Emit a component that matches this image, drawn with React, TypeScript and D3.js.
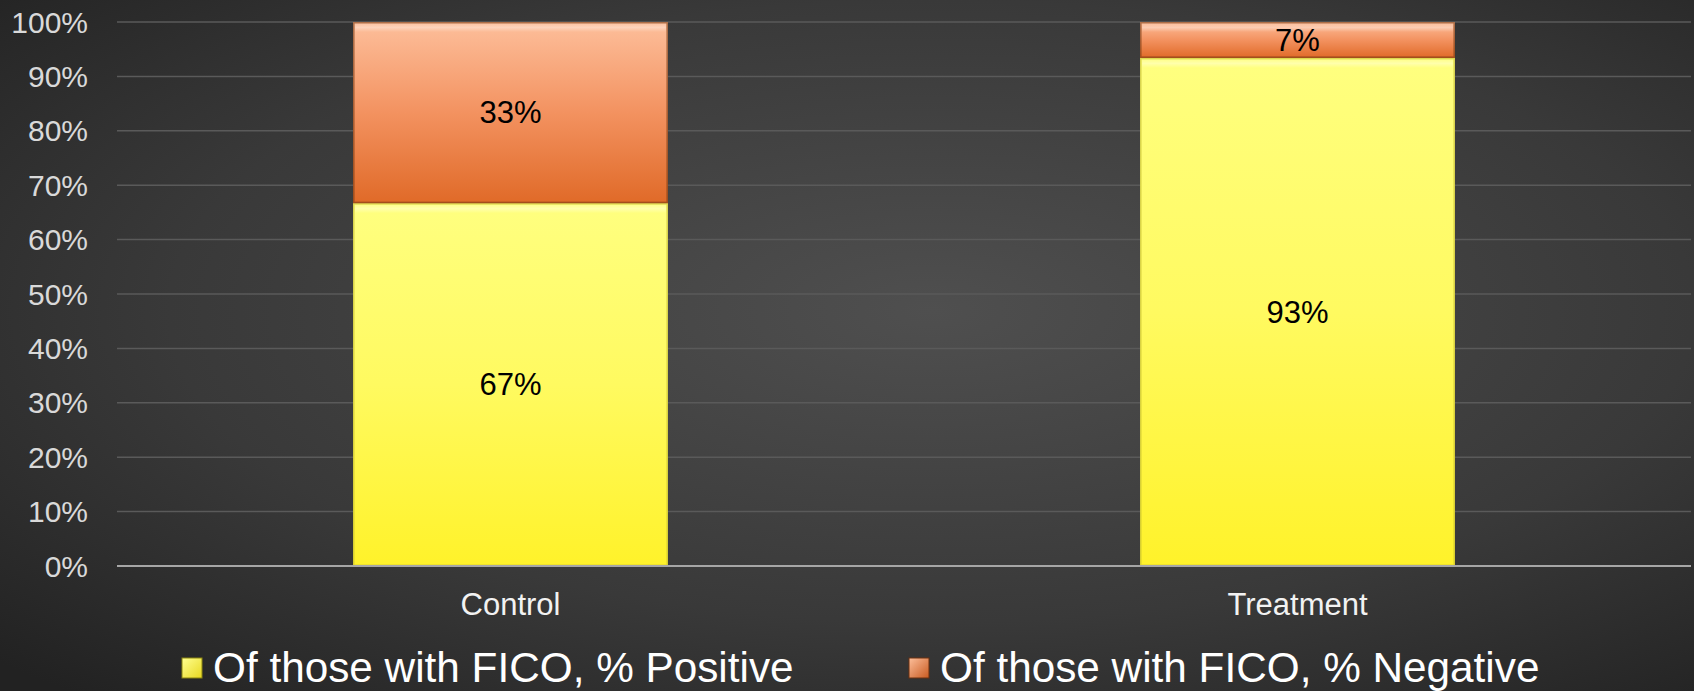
import React from "react";
import * as d3 from "d3";

const categories = ["Control", "Treatment"];
const positiveValues = [0.667, 0.934];
const negativeValues = [0.333, 0.066];
const seriesNames = ["Of those with FICO, % Positive", "Of those with FICO, % Negative"];
const yTicks = [0, 0.1, 0.2, 0.3, 0.4, 0.5, 0.6, 0.7, 0.8, 0.9, 1.0];

const W = 1694;
const H = 691;
const M = { left: 117, right: 3, top: 22, bottom: 125 };
const FONT = "'Liberation Sans', Arial, sans-serif";

export default function App() {
  const x = d3
    .scaleBand<string>()
    .domain(categories)
    .range([M.left, W - M.right])
    .paddingInner(0.6)
    .paddingOuter(0.3);
  const y = d3.scaleLinear().domain([0, 1]).range([H - M.bottom, M.top]);
  const pct = d3.format(".0%");
  const stacked = d3
    .stack<any>()
    .keys(["pos", "neg"])(categories.map((c, i) => ({ cat: c, pos: positiveValues[i], neg: negativeValues[i] })));
  const fills = ["url(#gYellow)", "url(#gOrange)"];
  const edge = ["#c8c030", "#7a3a12"];
  const bw = x.bandwidth();

  return (
    <svg width={W} height={H} style={{ position: "absolute", left: 0, top: 0, display: "block" }}>
      <defs>
        <radialGradient id="bg" cx="0.55" cy="0.45" r="0.75">
          <stop offset="0" stopColor="#4f4f4f" />
          <stop offset="0.6" stopColor="#393939" />
          <stop offset="1" stopColor="#222222" />
        </radialGradient>
        <linearGradient id="gYellow" x1="0" y1="0" x2="0" y2="1">
          <stop offset="0" stopColor="#ffff80" />
          <stop offset="0.5" stopColor="#fffa60" />
          <stop offset="1" stopColor="#fff22a" />
        </linearGradient>
        <linearGradient id="gOrange" x1="0" y1="0" x2="0" y2="1">
          <stop offset="0" stopColor="#fdbf9b" />
          <stop offset="0.5" stopColor="#f39260" />
          <stop offset="1" stopColor="#e06a28" />
        </linearGradient>
        <linearGradient id="hl" x1="0" y1="0" x2="0" y2="1">
          <stop offset="0" stopColor="#ffffff" stopOpacity="0.05" />
          <stop offset="0.5" stopColor="#ffffff" stopOpacity="0.35" />
          <stop offset="1" stopColor="#ffffff" stopOpacity="0" />
        </linearGradient>
        <linearGradient id="gLegY" x1="0" y1="0" x2="1" y2="1">
          <stop offset="0" stopColor="#ffff90" />
          <stop offset="1" stopColor="#e8d820" />
        </linearGradient>
        <linearGradient id="gLegO" x1="0" y1="0" x2="1" y2="1">
          <stop offset="0" stopColor="#fdbf9b" />
          <stop offset="1" stopColor="#c85a20" />
        </linearGradient>
      </defs>
      <rect x={0} y={0} width={W} height={H} fill="url(#bg)" />

      {yTicks.map((t) => (
        <g key={t}>
          {t > 0 && (
            <line x1={M.left} x2={W - M.right} y1={y(t)} y2={y(t)} stroke="#5a5a5a" strokeWidth={1.5} />
          )}
          <text
            x={88}
            y={y(t)}
            dy="0.35em"
            textAnchor="end"
            fontFamily={FONT}
            fontSize={30}
            fill="#d9d9d9"
          >
            {pct(t)}
          </text>
        </g>
      ))}

      {stacked.map((s, si) =>
        s.map((d, i) => {
          const x0 = x(categories[i]) as number;
          const y0 = y(d[1]);
          const h = y(d[0]) - y(d[1]);
          return (
            <g key={`${si}-${i}`}>
              <rect x={x0} y={y0} width={bw} height={h} fill={fills[si]} />
              <rect x={x0 + 2} y={y0 + 1} width={bw - 4} height={Math.min(9, h / 2)} fill="url(#hl)" />
              <rect
                x={x0 + 0.75}
                y={y0 + 0.75}
                width={bw - 1.5}
                height={h - 1.5}
                fill="none"
                stroke={edge[si]}
                strokeOpacity={0.6}
                strokeWidth={1.5}
              />
              <text
                x={x0 + bw / 2}
                y={(y(d[0]) + y(d[1])) / 2}
                dy="0.35em"
                textAnchor="middle"
                fontFamily={FONT}
                fontSize={31}
                fill="#000"
              >
                {pct(d[1] - d[0])}
              </text>
            </g>
          );
        })
      )}

      <line x1={M.left} x2={W - M.right} y1={y(0)} y2={y(0)} stroke="#a6a6a6" strokeWidth={2} />

      {categories.map((c) => (
        <text
          key={c}
          x={(x(c) as number) + bw / 2}
          y={604}
          dy="0.35em"
          textAnchor="middle"
          fontFamily={FONT}
          fontSize={31}
          fill="#f2f2f2"
        >
          {c}
        </text>
      ))}

      {seriesNames.map((n, i) => {
        const lx = i === 0 ? 182 : 909;
        return (
          <g key={n}>
            <rect
              x={lx}
              y={658}
              width={20}
              height={20}
              fill={i === 0 ? "url(#gLegY)" : "url(#gLegO)"}
              stroke={i === 0 ? "#8a8410" : "#6a3010"}
              strokeWidth={1}
            />
            <text x={lx + 31} y={667} dy="0.35em" fontFamily={FONT} fontSize={42.3} fill="#ffffff">
              {n}
            </text>
          </g>
        );
      })}
    </svg>
  );
}
